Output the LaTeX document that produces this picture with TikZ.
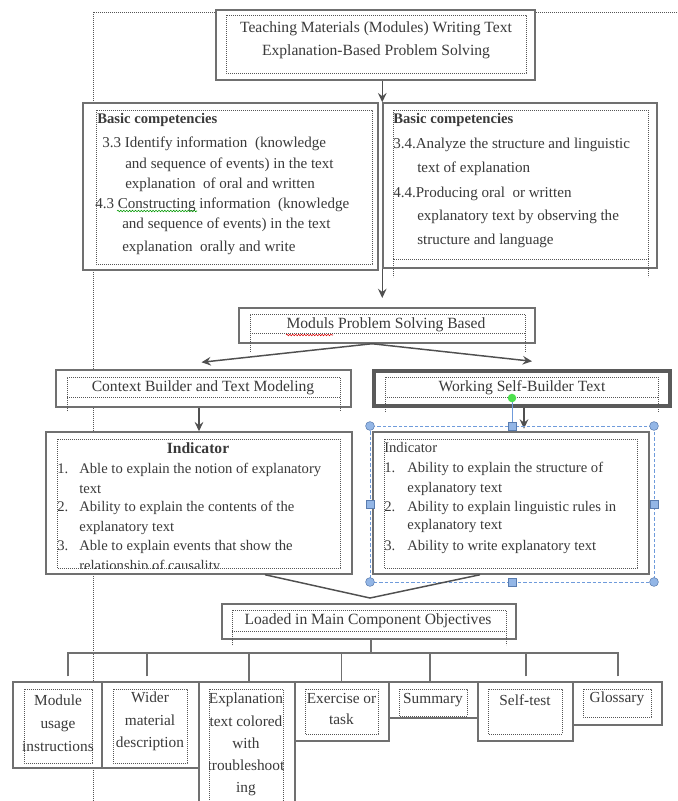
\documentclass[tikz,border=0pt]{standalone}
\usepackage{fontspec}
\setmainfont{Liberation Serif}
\usetikzlibrary{arrows.meta,calc,fit,decorations.pathmorphing}
\definecolor{boxc}{HTML}{707070}
\definecolor{arrc}{HTML}{505050}
\definecolor{txt}{HTML}{3A3A3A}
\definecolor{dotc}{HTML}{555555}
\definecolor{selc}{HTML}{6F9BDB}
\definecolor{handc}{HTML}{93B6E6}
\definecolor{rotc}{HTML}{4CE04C}
\begin{document}
\begin{tikzpicture}[x=0.75pt,y=-0.75pt,
  ob/.style={draw=boxc, line width=1.1pt, fill=white, inner sep=0pt, rectangle},
  wb/.style={ob, line width=2.6pt, draw=boxc!80!black},
  ib/.style={draw=dotc, line width=0.6pt, dash pattern=on 0.6pt off 0.9pt},
  guide/.style={draw=dotc, line width=0.6pt, dash pattern=on 0.6pt off 0.9pt},
  lbl/.style={text=txt, inner sep=0pt},
  fh/.style={font=\fontsize{11.7}{14}\selectfont},
  fb/.style={font=\fontsize{11.3}{14}\selectfont},
  fbb/.style={font=\bfseries\fontsize{11}{14}\selectfont},
  fi/.style={font=\fontsize{11}{14}\selectfont},
  fs/.style={font=\fontsize{11.5}{14}\selectfont},
  arr/.style={draw=arrc, line width=1.1pt, -{Stealth[length=7pt,width=6.5pt,inset=2.5pt]}},
  conn/.style={draw=boxc, line width=1pt},
  sel/.style={draw=selc, line width=0.7pt, dash pattern=on 2.5pt off 1.5pt},
  hnd/.style={fill=handc, draw=selc!80!black, line width=0.4pt}
]
\useasboundingbox (0,0) rectangle (678,801);
\clip (0,0) rectangle (678,801);
\fill[white] (0,0) rectangle (678,801);

% page guides
\draw[guide] (93,801) -- (93,12) -- (678,12);

% ---------- top box
\node[ob, fit={(216,10) (535,80)}] (top) {};
\draw[ib] (226,15) rectangle (526,73);
\node[lbl,fh,anchor=base] (tt1) at (376,32) {Teaching Materials (Modules) Writing Text};
\node[lbl,fh,anchor=base] (tt2) at (376,55) {Explanation-Based Problem Solving};

% ---------- basic competencies boxes
\node[ob, fit={(83,103) (378,270)}] (bcL) {};
\draw[ib] (96,110) rectangle (372,264);
\node[ob, fit={(383,103) (657,268)}] (bcR) {};
\draw[ib] (393,110) rectangle (648,259);
\draw[ib] (393,259) -- (393,277) (648,259) -- (648,277);

\node[lbl,fbb,anchor=base west] (bl0) at (97,123) {Basic competencies};
\foreach \x/\y/\t [count=\i] in {
  102/147/{3.3 Identify information \ (knowledge},
  125/168/{and sequence of events) in the text},
  125/188/{explanation \ of oral and written},
  95/208/{4.3 Constructing information \ (knowledge},
  122/228/{and sequence of events) in the text},
  122/251/{explanation \ orally and write}}
  {\node[lbl,fb,anchor=base west] (bl\i) at (\x,\y) {\t};}
\draw[green!60!black, line width=0.4pt, decorate, decoration={snake, amplitude=0.6pt, segment length=2.2pt}] (117,211) -- (197,211);

\node[lbl,fbb,anchor=base west] (br0) at (393,123) {Basic competencies};
\foreach \x/\y/\t [count=\i] in {
  393/148/{3.4.Analyze the structure and linguistic},
  417/172/{text of explanation},
  393/197/{4.4.Producing oral \ or written},
  417/220/{explanatory text by observing the},
  417/244/{structure and language}}
  {\node[lbl,fb,anchor=base west] (br\i) at (\x,\y) {\t};}

\draw[arr] (top.south -| bcR.west) -- (bcR.north west);
\draw[arr, shorten >=7.5pt] (bcR.south west) -- (bcR.south west |- 0,308);

% ---------- moduls box
\node[ob, fit={(239,308) (535,343)}] (mod) {};
\draw[ib] (250,352) -- (250,314) -- (525,314) -- (525,352);
\draw[ib] (250,333) -- (525,333);
\node[lbl,fh,anchor=base] (modt) at (386,328) {Moduls Problem Solving Based};
\draw[red!85!black, line width=0.4pt, decorate, decoration={snake, amplitude=0.6pt, segment length=2.2pt}] (286,335) -- (333,335);

% ---------- context / working boxes
\node[ob, fit={(56,370) (351,407)}] (ctx) {};
\draw[ib] (67,411) -- (67,377) -- (340,377) -- (340,411);
\draw[ib] (67,397) -- (340,397);
\node[lbl,fh,anchor=base] (ctxt) at (203,391) {Context Builder and Text Modeling};

\node[wb, fit={(374,371) (670,406)}] (wrk) {};
\draw[ib] (385,412) -- (385,377) -- (658,377) -- (658,412);
\draw[ib] (385,397) -- (658,397);
\node[lbl,fh,anchor=base] (wrkt) at (522,391) {Working Self-Builder Text};

\draw[arr] ($(mod.south)+(-15,0)$) -- ($(ctx.north)+(-2,-7)$);
\draw[arr] ($(mod.south)+(-15,0)$) -- ($(wrk.north)+(10,-8)$);

% ---------- indicator boxes
\node[ob, fit={(46,432) (352,574)}] (indL) {};
\node[ob, fit={(373,432) (649,574)}] (indR) {};

\draw[arr] (indL.north |- ctx.south) -- (indL.north);
\draw[arr, shorten >=2pt] ($(wrk.south)+(2,0)$) -- ($(wrk.south |- indR.north)+(2,0)$);

\begin{scope}
\clip (46,432) rectangle (352,568.5);
\node[lbl,font=\bfseries\fontsize{11.7}{14}\selectfont,anchor=base] (il0) at (198,453) {Indicator};
\foreach \y/\t [count=\i] in {473/1., 511/2., 550/3.}
  {\node[lbl,fi,anchor=base west] (iln\i) at (57,\y) {\t};}
\foreach \y/\t [count=\i] in {
  473/{Able to explain the notion of explanatory},
  493/{text},
  511/{Ability to explain the contents of the},
  531/{explanatory text},
  550/{Able to explain events that show the},
  570/{relationship of causality}}
  {\node[lbl,fi,anchor=base west] (il\i) at (79,\y) {\t};}
\end{scope}
\draw[ib] (57,439) rectangle (340,568);

\draw[ib] (384,439) rectangle (637,568);
\node[lbl,fi,anchor=base west] (ir0) at (384,452) {Indicator};
\foreach \y/\t [count=\i] in {472/1., 511/2., 550/3.}
  {\node[lbl,fi,anchor=base west] (irn\i) at (384,\y) {\t};}
\foreach \y/\t [count=\i] in {
  472/{Ability to explain the structure of},
  492/{explanatory text},
  511/{Ability to explain linguistic rules in},
  529/{explanatory text},
  550/{Ability to write explanatory text}}
  {\node[lbl,fi,anchor=base west] (ir\i) at (407,\y) {\t};}

% selection frame
\draw[sel] (370,426) rectangle (654,582);
\draw[selc, line width=0.6pt] (512,398) -- (512,426);
\fill[rotc] (512,398) circle[radius=3.2pt];
\foreach \p in {(370,426),(654,426),(370,582),(654,582)}
  {\filldraw[hnd] \p circle[radius=3.3pt];}
\foreach \cx/\cy in {512/426, 512/582, 370/504, 654/504}
  {\filldraw[hnd] (\cx-4,\cy-4) rectangle (\cx+4,\cy+4);}

% ---------- V connector
\coordinate (vtx) at (370,598);
\draw[draw=arrc, line width=1.1pt] ($(indL.south)+(66,0)$) -- (vtx) -- ($(indR.south)+(-31,0)$);

% ---------- loaded box
\node[ob, fit={(222,604) (516,639)}] (load) {};
\draw[ib] (232,645) -- (232,610) -- (506,610) -- (506,645);
\draw[ib] (232,631) -- (506,631);
\node[lbl,fh,anchor=base] (loadt) at (368,624) {Loaded in Main Component Objectives};

% ---------- bottom boxes
\node[ob, fit={(13,682) (102,768)}] (b1) {};
\draw[ib] (24,689) rectangle (92,763);
\node[ob, fit={(102,682) (199,768)}] (b2) {};
\draw[ib] (113,689) rectangle (187,763);
\node[ob, fit={(199,682) (295,812)}] (b3) {};
\draw[ib] (209,812) -- (209,689) -- (283,689) -- (283,812);
\node[ob, fit={(295,682) (389,741)}] (b4) {};
\draw[ib] (305,689) rectangle (378,734);
\node[ob, fit={(389,682) (478,718)}] (b5) {};
\draw[ib] (399,689) rectangle (467,716);
\node[ob, fit={(478,682) (573,741)}] (b6) {};
\draw[ib] (488,689) rectangle (562,734);
\node[ob, fit={(573,682) (662,725)}] (b7) {};
\draw[ib] (583,689) rectangle (651,717);

\foreach \y/\t [count=\i] in {705/Module, 728/usage, 751/instructions}
  {\node[lbl,fs,anchor=base] (b1t\i) at (58,\y) {\t};}
\foreach \y/\t [count=\i] in {702/Wider, 725/material, 747/description}
  {\node[lbl,fs,anchor=base] (b2t\i) at (150,\y) {\t};}
\begin{scope}
\clip (209,689) rectangle (283,801);
\foreach \y/\t [count=\i] in {703/Explanation, 726/{text colored}, 748/with, 770/troubleshoot, 792/ing}
  {\node[lbl,fs,anchor=base] (b3t\i) at (246,\y) {\t};}
\end{scope}
\node[lbl,fs,anchor=base] (b4t1) at (341.5,703) {Exercise or};
\node[lbl,fs,anchor=base] (b4t2) at (341.5,724) {task};
\node[lbl,fs,anchor=base] (b5t) at (433,703) {Summary};
\node[lbl,fs,anchor=base] (b6t) at (525,705) {Self-test};
\node[lbl,fs,anchor=base] (b7t) at (617,702) {Glossary};

% ---------- tree
\coordinate (bus) at (371,653);
\draw[conn] (load.south -| bus) -- (bus);
\draw[conn] ($(b1.north)+(10.5,-5)$) |- (bus);
\draw[conn] ($(b2.north)+(-3.5,-5)$) |- (bus);
\draw[conn] ($(b3.north)+(2,0)$) |- (bus);
\draw[conn] ($(b4.north)+(-0.5,0)$) |- (bus);
\draw[conn] ($(b5.north)+(-3.5,0)$) |- (bus);
\draw[conn] ($(b6.north)+(0.5,-5)$) |- (bus);
\draw[conn] ($(b7.north)+(0.5,-5)$) |- (bus);
\end{tikzpicture}
\end{document}
